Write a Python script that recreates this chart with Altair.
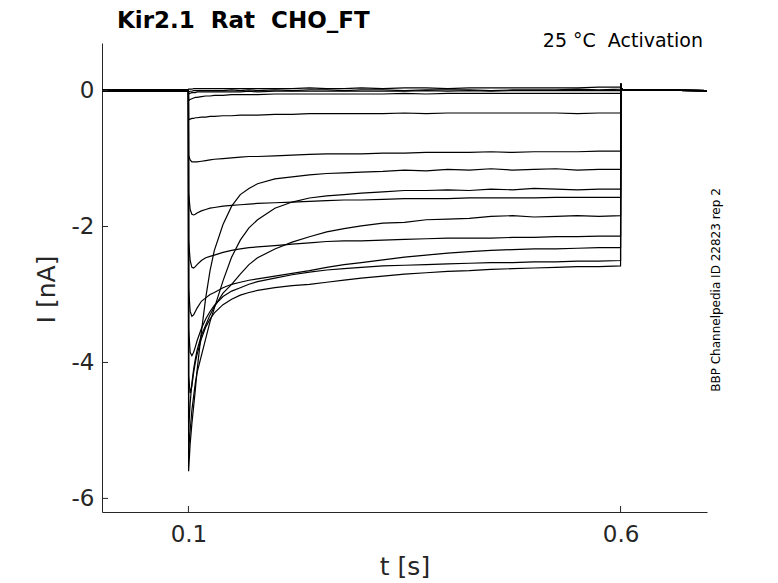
import altair as alt
import pandas as pd

# ---- time grid during the step (s) ----
STEP_T = [0.1002, 0.102, 0.104, 0.106, 0.108, 0.11, 0.115, 0.12, 0.125, 0.13,
          0.14, 0.15, 0.16, 0.17, 0.18, 0.2, 0.22, 0.24, 0.26, 0.28, 0.3,
          0.325, 0.35, 0.375, 0.4, 0.425, 0.45, 0.475, 0.5, 0.525, 0.55, 0.575, 0.6]
PRE_T = [0.0, 0.1]
TAIL_T = [0.6003, 0.601, 0.603, 0.7]
TAIL_I = [0.1, 0.03, 0.01, 0.0]

# ---- current traces (nA) ----
I_Z1 = [0.02, 0.02, 0.02, 0.03, 0.03, 0.03, 0.03, 0.03, 0.03, 0.03, 0.03, 0.03, 0.03, 0.03, 0.03, 0.03, 0.03,
        0.04, 0.03, 0.03, 0.04, 0.03, 0.04, 0.04, 0.03, 0.04, 0.04, 0.04, 0.04, 0.04, 0.04, 0.05, 0.05]
I_Z2 = [-0.02, -0.01, -0.01, 0.0, 0.0, 0.0, 0.0, 0.0, 0.0, 0.0, 0.0, 0.01, 0.0, 0.01, 0.0, 0.01, 0.0,
        0.01, 0.01, 0.0, 0.01, 0.01, 0.0, 0.01, 0.01, 0.01, 0.0, 0.01, 0.01, 0.01, 0.02, 0.01, 0.02]
I_Z3 = [-0.05, -0.04, -0.03, -0.03, -0.03, -0.02, -0.02, -0.02, -0.02, -0.02, -0.02, -0.02, -0.02, -0.01,
        -0.02, -0.01, -0.01, -0.01, -0.01, -0.01, -0.01, -0.01, -0.01, 0.0, -0.01, 0.0, -0.01, 0.0, 0.0, 0.0,
        0.0, 0.0, 0.0]
I_T1 = [-0.15, -0.13, -0.12, -0.11, -0.1, -0.1, -0.09, -0.08, -0.08, -0.07, -0.07, -0.06, -0.06, -0.06,
        -0.06, -0.05, -0.05, -0.05, -0.05, -0.05, -0.05, -0.05, -0.04, -0.05, -0.04, -0.04, -0.04, -0.04,
        -0.04, -0.04, -0.04, -0.04, -0.04]
I_T2 = [-0.43, -0.42, -0.41, -0.41, -0.4, -0.4, -0.39, -0.39, -0.38, -0.38, -0.37, -0.37, -0.36, -0.36,
        -0.36, -0.35, -0.35, -0.34, -0.34, -0.34, -0.34, -0.34, -0.33, -0.34, -0.33, -0.33, -0.33, -0.33,
        -0.33, -0.33, -0.34, -0.33, -0.33]
I_T3 = [-0.95, -1.02, -1.05, -1.05, -1.05, -1.05, -1.04, -1.03, -1.02, -1.01, -1.0, -0.99, -0.98, -0.97,
        -0.97, -0.96, -0.95, -0.94, -0.93, -0.93, -0.93, -0.92, -0.92, -0.91, -0.91, -0.91, -0.9, -0.91,
        -0.9, -0.9, -0.9, -0.89, -0.89]
I_T4 = [-1.5, -1.75, -1.82, -1.83, -1.82, -1.8, -1.77, -1.75, -1.73, -1.72, -1.7, -1.69, -1.68, -1.67,
        -1.66, -1.65, -1.64, -1.63, -1.62, -1.61, -1.61, -1.6, -1.59, -1.59, -1.59, -1.58, -1.58, -1.58,
        -1.58, -1.57, -1.57, -1.57, -1.57]
I_T5 = [-2.2, -2.5, -2.6, -2.61, -2.59, -2.56, -2.5, -2.46, -2.44, -2.42, -2.38, -2.35, -2.33, -2.31,
        -2.3, -2.28, -2.26, -2.24, -2.22, -2.21, -2.21, -2.2, -2.19, -2.18, -2.17, -2.17, -2.17, -2.16,
        -2.16, -2.15, -2.15, -2.14, -2.14]
I_T6 = [-2.9, -3.25, -3.32, -3.3, -3.25, -3.2, -3.1, -3.05, -3.0, -2.97, -2.9, -2.85, -2.82, -2.79,
        -2.77, -2.73, -2.69, -2.65, -2.6, -2.56, -2.53, -2.49, -2.45, -2.42, -2.39, -2.37, -2.35, -2.34,
        -2.33, -2.33, -2.32, -2.31, -2.31]
I_T7 = [-3.5, -3.85, -3.9, -3.85, -3.77, -3.68, -3.5, -3.36, -3.25, -3.16, -3.03, -2.95, -2.9, -2.85,
        -2.81, -2.76, -2.71, -2.67, -2.64, -2.62, -2.6, -2.58, -2.57, -2.56, -2.55, -2.54, -2.53, -2.53,
        -2.52, -2.52, -2.51, -2.51, -2.5]
I_T8 = [-4.2, -4.45, -4.35, -4.15, -4.0, -3.88, -3.65, -3.48, -3.36, -3.27, -3.15, -3.07, -3.01, -2.97,
        -2.94, -2.9, -2.87, -2.85, -2.82, -2.79, -2.76, -2.73, -2.7, -2.68, -2.66, -2.65, -2.63, -2.62,
        -2.61, -2.6, -2.59, -2.59, -2.58]
I_T9 = [-5.0, -4.6, -4.3, -4.1, -3.95, -3.82, -3.6, -3.45, -3.3, -3.18, -2.98, -2.85, -2.7, -2.56,
        -2.46, -2.33, -2.23, -2.15, -2.08, -2.03, -1.99, -1.95, -1.94, -1.9, -1.89, -1.88, -1.85, -1.84,
        -1.86, -1.85, -1.84, -1.85, -1.84]
I_T10 = [-5.3, -5.0, -4.7, -4.5, -4.3, -4.15, -3.9, -3.65, -3.4, -3.2, -2.8, -2.45, -2.2, -2.02,
         -1.9, -1.73, -1.64, -1.58, -1.55, -1.53, -1.51, -1.49, -1.47, -1.47, -1.46, -1.47, -1.45, -1.46,
         -1.44, -1.45, -1.46, -1.45, -1.45]
I_T11 = [-5.6, -5.2, -4.9, -4.65, -4.4, -4.12, -3.55, -3.05, -2.65, -2.35, -1.97, -1.7, -1.53, -1.44,
         -1.37, -1.3, -1.27, -1.24, -1.22, -1.21, -1.2, -1.19, -1.17, -1.18, -1.16, -1.17, -1.15, -1.17,
         -1.16, -1.15, -1.17, -1.16, -1.16]

TRACES = [I_Z1, I_Z2, I_Z3, I_T1, I_T2, I_T3, I_T4, I_T5, I_T6, I_T7, I_T8, I_T9, I_T10, I_T11]
PRE_LEVEL = [0.01, 0.0, -0.01, 0.0, 0.01, -0.01, 0.0, 0.01, 0.0, -0.01, 0.0, 0.01, 0.0, -0.01]

X_TICKS = [0.1, 0.6]
Y_TICKS = [0, -2, -4, -6]

TITLE = "Kir2.1\u00a0\u00a0Rat\u00a0\u00a0CHO_FT"
CORNER = "25\u00a0°C\u00a0\u00a0Activation"
SIDE = "BBP Channelpedia ID 22823 rep 2"

rows = []
for k, trace in enumerate(TRACES):
    o = 0
    for t in PRE_T:
        rows.append({"sweep": k, "o": o, "t": t, "I": PRE_LEVEL[k]}); o += 1
    for t, v in zip(STEP_T, trace):
        rows.append({"sweep": k, "o": o, "t": t, "I": v}); o += 1
    for t, v in zip(TAIL_T, TAIL_I):
        rows.append({"sweep": k, "o": o, "t": t, "I": v}); o += 1
df = pd.DataFrame(rows)

FONT = "DejaVu Sans"
AX = "#262626"
xscale = alt.Scale(domain=[0, 0.7], nice=False, zero=False)
yscale = alt.Scale(domain=[-6.2, 0.7], nice=False, zero=False)
xaxis = alt.Axis(values=X_TICKS, labelExpr="datum.value + ''", title="t [s]",
                 labelFontSize=23, titleFontSize=25, labelPadding=11, titlePadding=8,
                 tickSize=0, grid=False)
yaxis = alt.Axis(values=Y_TICKS, labelExpr="datum.value + ''", title="I [nA]",
                 labelFontSize=23, titleFontSize=25, labelPadding=8, titlePadding=12,
                 titleY=246, tickSize=0, grid=False)

X = alt.X("t:Q", scale=xscale, axis=xaxis)
Y = alt.Y("I:Q", scale=yscale, axis=yaxis)

lines = alt.Chart(df).mark_line(color="black", strokeWidth=1.2).encode(
    x=X, y=Y, detail="sweep:N", order="o:Q")

xt = alt.Chart(pd.DataFrame({"t": X_TICKS})).mark_rule(color=AX, strokeWidth=1).encode(
    x=X, y=alt.value(469), y2=alt.value(463))
yt = alt.Chart(pd.DataFrame({"I": Y_TICKS})).mark_rule(color=AX, strokeWidth=1).encode(
    y=Y, x=alt.value(0), x2=alt.value(6))

title = alt.Chart(pd.DataFrame({"s": [TITLE]})).mark_text(
    font=FONT, fontSize=23, fontWeight="bold", align="left", baseline="alphabetic", color="black"
).encode(text="s:N", x=alt.value(15), y=alt.value(-15))
corner = alt.Chart(pd.DataFrame({"s": [CORNER]})).mark_text(
    font=FONT, fontSize=19, align="right", baseline="alphabetic", color="black"
).encode(text="s:N", x=alt.value(601), y=alt.value(4))
side = alt.Chart(pd.DataFrame({"s": [SIDE]})).mark_text(
    font=FONT, fontSize=12, align="center", baseline="middle", angle=270, color="black"
).encode(text="s:N", x=alt.value(614), y=alt.value(247))

chart = alt.layer(lines, xt, yt, title, corner, side).properties(
    width=605, height=469,
    autosize=alt.AutoSizeParams(type="none"),
    padding={"left": 94, "top": 35, "right": 60, "bottom": 70},
).configure_view(stroke=None).configure_axis(
    domainColor=AX, labelColor=AX, titleColor=AX, labelFont=FONT, titleFont=FONT,
    titleFontWeight="normal", domainWidth=1
)

chart.save("out.html", embed_options={"renderer": "svg", "actions": False})
